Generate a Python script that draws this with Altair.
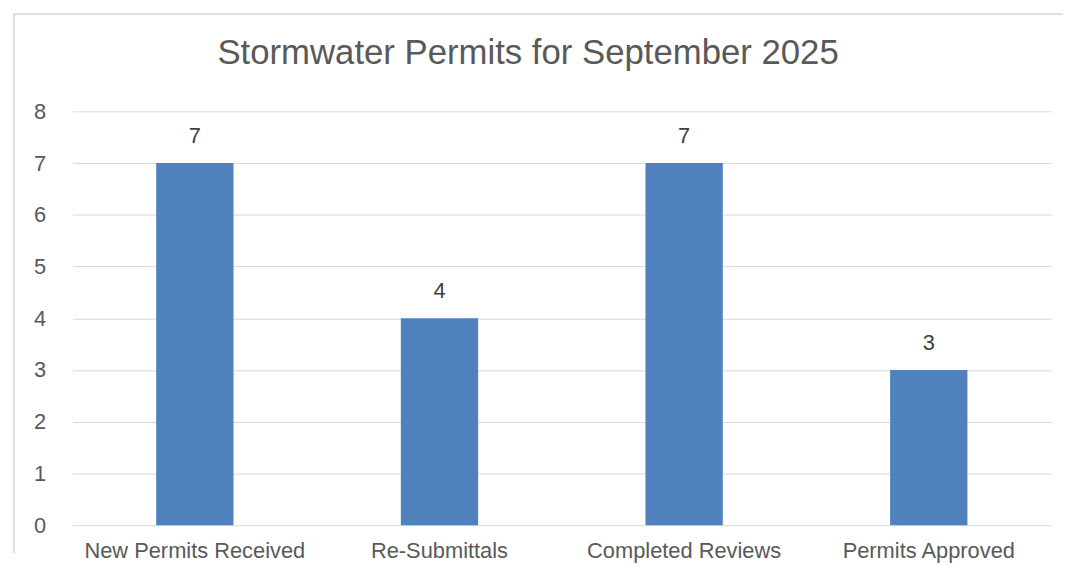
import altair as alt
import pandas as pd

categories = ["New Permits Received", "Re-Submittals", "Completed Reviews", "Permits Approved"]
values = [7, 4, 7, 3]
title_text = "Stormwater Permits for September 2025"

df = pd.DataFrame({"category": categories, "value": values})

W, H = 986, 417
FONT = "Liberation Sans"
TXT = "#595959"

x = alt.X("category:N", sort=categories, title=None,
          scale=alt.Scale(paddingInner=0.684, paddingOuter=0.342),
          axis=alt.Axis(labelAngle=0, labelFontSize=22, labelColor=TXT, labelFont=FONT,
                        labelPadding=16, labelLimit=0, ticks=False, domain=False, grid=False))
y = alt.Y("value:Q", title=None,
          scale=alt.Scale(domain=[0, 8], nice=False),
          axis=alt.Axis(values=list(range(9)), labelFontSize=22, labelColor=TXT, labelFont=FONT,
                        labelPadding=27, ticks=False, domain=False, gridColor="#D9D9D9",
                        gridWidth=1))

base = alt.Chart(df)
bars = base.mark_bar(color="#4F81BD").encode(x=x, y=y)
labels = base.mark_text(fontSize=22, font=FONT, color="#404040", baseline="alphabetic", dy=-20).encode(
    x=alt.X("category:N", sort=categories), y="value:Q", text="value:Q")

frame_top = alt.Chart(pd.DataFrame({"a": [0]})).mark_rule(color="#BFBFBF", strokeWidth=1).encode(
    x=alt.value(-59), x2=alt.value(W + 12), y=alt.value(-98))
frame_left = alt.Chart(pd.DataFrame({"a": [0]})).mark_rule(color="#BFBFBF", strokeWidth=1).encode(
    x=alt.value(-59), y=alt.value(-98), y2=alt.value(H + 28))

chart = alt.layer(frame_top, frame_left, bars, labels).properties(
    width=W, height=H,
    padding={"left": 5, "top": 3, "right": 0, "bottom": 0},
    title=alt.TitleParams(title_text, fontSize=35, font=FONT, color=TXT, fontWeight="normal",
                          dx=-34, offset=-58, anchor="middle"),
).configure_view(stroke=None)

chart.save("out.html", embed_options={"renderer": "svg", "actions": False})
